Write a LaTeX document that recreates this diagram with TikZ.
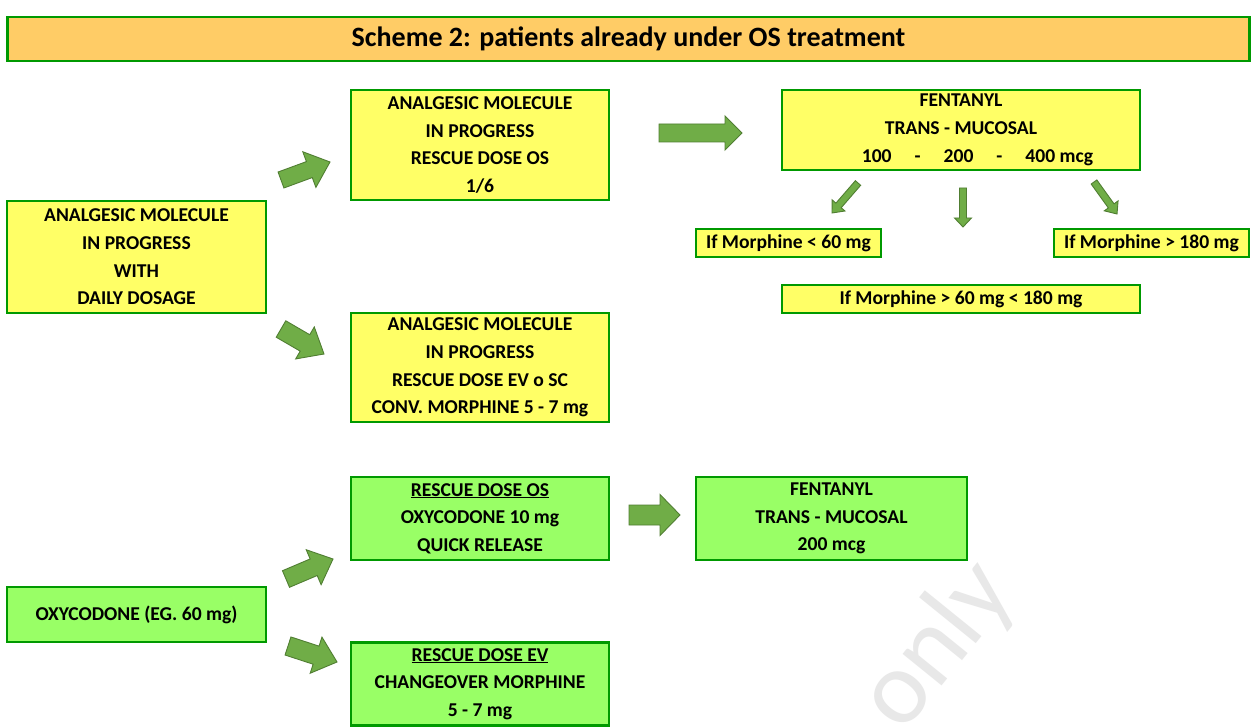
\documentclass[tikz,border=0pt]{standalone}
\usepackage{fontspec}
\setmainfont{Carlito}
\usetikzlibrary{calc}
\definecolor{boxyellow}{HTML}{FFFF66}
\definecolor{boxgreen}{HTML}{99FF66}
\definecolor{edgegreen}{HTML}{009900}
\definecolor{titlefill}{HTML}{FFCC66}
\definecolor{arrfill}{HTML}{70AD47}
\definecolor{arredge}{HTML}{507E32}
\tikzset{
  box/.style={draw=edgegreen, line width=2.8pt, inner sep=0pt, align=center,
    font=\bfseries\fontsize{19.6}{27.7}\selectfont, text=black},
  ybox/.style={box, fill=boxyellow},
  gbox/.style={box, fill=boxgreen},
  barrow/.style={fill=arrfill, draw=arredge, line width=0.9pt, line join=miter},
  wm/.style={text=black!9, font=\fontsize{105}{105}\selectfont, inner sep=0pt}
}
% #1 tail, #2 tip, #3 shaft width, #4 head width, #5 head length
\newcommand\blockarrow[5]{%
  \draw[barrow] let \p1=($(#2)-(#1)$), \n1={atan2(\y1,\x1)}, \n2={veclen(\x1,\y1)} in
    ($(#1)+({\n1+90}:{#3/2})$) -- ++(\n1:{\n2-#5}) -- ++({\n1+90}:{#4/2-#3/2})
    -- (#2)
    -- ($(#1)+(\n1:{\n2-#5})+({\n1-90}:{#4/2})$) -- ++({\n1+90}:{#4/2-#3/2})
    -- ($(#1)+({\n1-90}:{#3/2})$) -- cycle;}
\begin{document}
\begin{tikzpicture}[x=1pt,y=1pt]
\useasboundingbox (0,0) rectangle (1252,-727);
\fill[white] (0,0) rectangle (1252,-727);
% watermark
\node[wm, rotate=51] (wm) at (914,-676) {e only};
% title
\node[box, fill=titlefill, minimum width=1242, minimum height=44,
  font=\bfseries\fontsize{28}{30}\selectfont] (title) at (628.5,-39) {Scheme 2: patients already under OS treatment};
% yellow boxes
\node[ybox, minimum width=259, minimum height=112] (A) at (136.5,-257)
  {ANALGESIC MOLECULE\\IN PROGRESS\\WITH\\DAILY DOSAGE};
\node[ybox, minimum width=258, minimum height=110] (B) at (480,-145)
  {ANALGESIC MOLECULE\\IN PROGRESS\\RESCUE DOSE OS\\1/6};
\node[ybox, minimum width=258, minimum height=109] (D) at (480,-367.5)
  {ANALGESIC MOLECULE\\IN PROGRESS\\RESCUE DOSE EV o SC\\CONV. MORPHINE 5 - 7 mg};
\node[ybox, minimum width=358, minimum height=80] (C) at (961,-130)
  {FENTANYL\\TRANS - MUCOSAL\\\hspace*{33pt}100\hspace{23pt}-\hspace{23pt}200\hspace{23pt}-\hspace{23pt}400 mcg};
\node[ybox, minimum width=185, minimum height=28] (C1) at (788.5,-243) {If Morphine < 60 mg};
\node[ybox, minimum width=195, minimum height=28] (C3) at (1151.5,-243) {If Morphine > 180 mg};
\node[ybox, minimum width=358, minimum height=28] (C2) at (961,-299) {If Morphine > 60 mg < 180 mg};
% green boxes
\node[gbox, minimum width=258, minimum height=83] (E) at (480,-518.5)
  {\underline{RESCUE DOSE OS}\\OXYCODONE 10 mg\\QUICK RELEASE};
\node[gbox, minimum width=271, minimum height=83] (F) at (831.5,-518.5)
  {FENTANYL\\TRANS - MUCOSAL\\200 mcg};
\node[gbox, minimum width=259, minimum height=55] (G) at (136.5,-614.5)
  {OXYCODONE (EG. 60 mg)};
\node[gbox, minimum width=258, minimum height=83] (H) at (480,-684)
  {\underline{RESCUE DOSE EV}\\CHANGEOVER MORPHINE\\5 - 7 mg};
% arrow end points
\coordinate (tAB) at (281,-180); \coordinate (hAB) at (330,-162);
\coordinate (tAD) at (281,-329); \coordinate (hAD) at (324,-354);
\coordinate (tBC) at (659,-133); \coordinate (hBC) at (742,-133);
\coordinate (tEF) at (629,-515); \coordinate (hEF) at (680,-515);
\coordinate (tGE) at (286,-579); \coordinate (hGE) at (333,-559);
\coordinate (tGH) at (288,-646); \coordinate (hGH) at (337,-662);
\coordinate (tC1) at (858,-183); \coordinate (hC1) at (832,-213);
\coordinate (tC2) at (963,-188); \coordinate (hC2) at (963,-227);
\coordinate (tC3) at (1094,-182); \coordinate (hC3) at (1117,-214);
\blockarrow{tAB}{hAB}{17}{38}{22}
\blockarrow{tAD}{hAD}{19}{37}{22}
\blockarrow{tBC}{hBC}{18}{34}{17}
\blockarrow{tEF}{hEF}{20}{41}{20}
\blockarrow{tGE}{hGE}{18}{38}{21}
\blockarrow{tGH}{hGH}{19}{38}{22}
\blockarrow{tC1}{hC1}{7}{17}{10}
\blockarrow{tC2}{hC2}{7}{17}{9}
\blockarrow{tC3}{hC3}{7}{17}{10}
\end{tikzpicture}
\end{document}
